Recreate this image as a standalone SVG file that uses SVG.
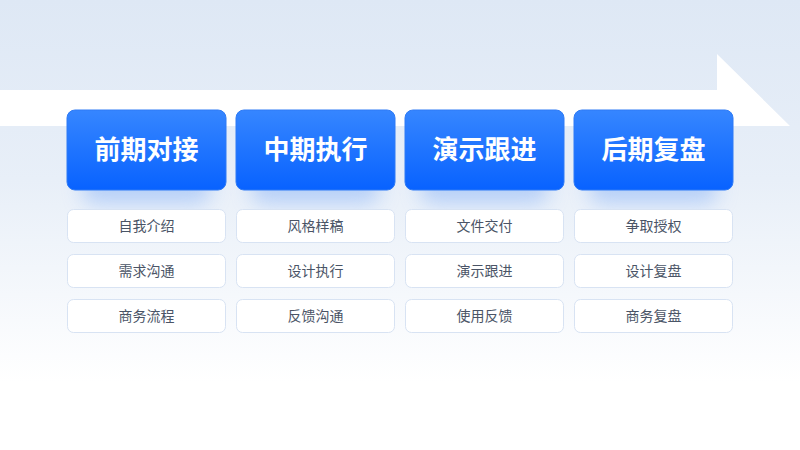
<svg xmlns="http://www.w3.org/2000/svg" width="800" height="450" viewBox="0 0 800 450">
<defs>
<linearGradient id="bg" x1="0" y1="0" x2="0" y2="1">
<stop offset="0" stop-color="#DEE8F5"/>
<stop offset="0.4" stop-color="#E8EFF8"/>
<stop offset="0.85" stop-color="#FFFFFF"/>
</linearGradient>
<linearGradient id="blue" x1="0" y1="0" x2="0" y2="1">
<stop offset="0" stop-color="#3686FF"/>
<stop offset="1" stop-color="#0862FF"/>
</linearGradient>
<filter id="glow" x="-30%" y="-30%" width="160%" height="180%">
<feGaussianBlur stdDeviation="10"/>
</filter>
<style>
.head{fill:url(#blue);stroke:#2F7BF5;stroke-width:1}
.ht{font-family:"Noto Sans CJK SC","Noto Sans",sans-serif;font-size:26px;font-weight:700;fill:#FFFFFF;text-anchor:middle}
.item{fill:#FFFFFF;stroke:#D8E3F3;stroke-width:1}
.it{font-family:"Noto Sans CJK SC","Noto Sans",sans-serif;font-size:14px;fill:#4A5466;text-anchor:middle}
.sh{fill:#8DB6F8;opacity:0.55}
</style>
</defs>
<rect width="800" height="450" fill="url(#bg)"/>
<path d="M0 90 H717 V54 L790 126 H0 Z" fill="#FFFFFF"/>
<g id="shadows">
<rect class="sh" x="82" y="170" width="129" height="34" rx="14" filter="url(#glow)"/>
<rect class="sh" x="251" y="170" width="129" height="34" rx="14" filter="url(#glow)"/>
<rect class="sh" x="420" y="170" width="129" height="34" rx="14" filter="url(#glow)"/>
<rect class="sh" x="589" y="170" width="129" height="34" rx="14" filter="url(#glow)"/>
</g>
<g id="connectors"></g>
<g id="col1">
<g id="h1"><rect class="head" x="67" y="110" width="159" height="80" rx="8"/><text class="ht" x="146.5" y="159">前期对接</text></g>
<g id="c1r1"><rect class="item" x="67.5" y="209.5" width="158" height="33" rx="6"/><text class="it" x="146.5" y="231">自我介绍</text></g>
<g id="c1r2"><rect class="item" x="67.5" y="254.5" width="158" height="33" rx="6"/><text class="it" x="146.5" y="276">需求沟通</text></g>
<g id="c1r3"><rect class="item" x="67.5" y="299.5" width="158" height="33" rx="6"/><text class="it" x="146.5" y="321">商务流程</text></g>
</g>
<g id="col2">
<g id="h2"><rect class="head" x="236" y="110" width="159" height="80" rx="8"/><text class="ht" x="315.5" y="159">中期执行</text></g>
<g id="c2r1"><rect class="item" x="236.5" y="209.5" width="158" height="33" rx="6"/><text class="it" x="315.5" y="231">风格样稿</text></g>
<g id="c2r2"><rect class="item" x="236.5" y="254.5" width="158" height="33" rx="6"/><text class="it" x="315.5" y="276">设计执行</text></g>
<g id="c2r3"><rect class="item" x="236.5" y="299.5" width="158" height="33" rx="6"/><text class="it" x="315.5" y="321">反馈沟通</text></g>
</g>
<g id="col3">
<g id="h3"><rect class="head" x="405" y="110" width="159" height="80" rx="8"/><text class="ht" x="484.5" y="159">演示跟进</text></g>
<g id="c3r1"><rect class="item" x="405.5" y="209.5" width="158" height="33" rx="6"/><text class="it" x="484.5" y="231">文件交付</text></g>
<g id="c3r2"><rect class="item" x="405.5" y="254.5" width="158" height="33" rx="6"/><text class="it" x="484.5" y="276">演示跟进</text></g>
<g id="c3r3"><rect class="item" x="405.5" y="299.5" width="158" height="33" rx="6"/><text class="it" x="484.5" y="321">使用反馈</text></g>
</g>
<g id="col4">
<g id="h4"><rect class="head" x="574" y="110" width="159" height="80" rx="8"/><text class="ht" x="653.5" y="159">后期复盘</text></g>
<g id="c4r1"><rect class="item" x="574.5" y="209.5" width="158" height="33" rx="6"/><text class="it" x="653.5" y="231">争取授权</text></g>
<g id="c4r2"><rect class="item" x="574.5" y="254.5" width="158" height="33" rx="6"/><text class="it" x="653.5" y="276">设计复盘</text></g>
<g id="c4r3"><rect class="item" x="574.5" y="299.5" width="158" height="33" rx="6"/><text class="it" x="653.5" y="321">商务复盘</text></g>
</g>
</svg>
